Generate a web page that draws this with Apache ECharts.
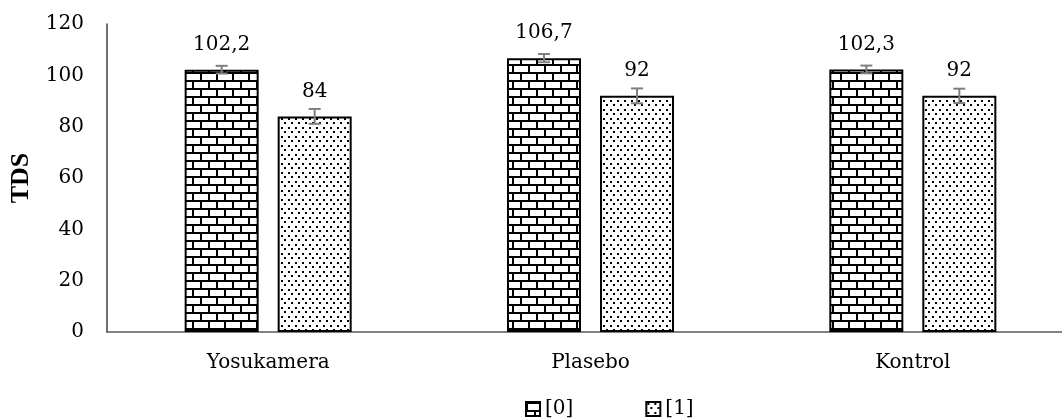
<!DOCTYPE html>
<html>
<head>
<meta charset="utf-8">
<script src="https://cdn.jsdelivr.net/npm/echarts@6/dist/echarts.min.js"></script>
<style>
html,body{margin:0;padding:0;background:#fff;overflow:hidden;}
#chart{width:1080px;height:418px;}
</style>
</head>
<body>
<div id="chart"></div>
<script>
// ---- data ----
const categories = ['Yosukamera', 'Plasebo', 'Kontrol'];
const seriesNames = ['[0]', '[1]'];
const values0 = [102.2, 106.7, 102.3];
const values1 = [84, 92, 92];
const errors0 = [1.5, 1.6, 1.5];
const errors1 = [2.9, 2.9, 2.8];
const yTicks = [0, 20, 40, 60, 80, 100, 120];

// ---- patterns ----
function brickPattern() {
  const c = document.createElement('canvas');
  c.width = 16; c.height = 16;
  const g = c.getContext('2d');
  g.fillStyle = '#fff'; g.fillRect(0, 0, 16, 16);
  g.fillStyle = '#000';
  g.fillRect(0, 0, 16, 2);
  g.fillRect(0, 8, 16, 2);
  g.fillRect(0, 0, 2, 8);
  g.fillRect(8, 8, 2, 8);
  return c;
}
function dotPattern() {
  const c = document.createElement('canvas');
  c.width = 14; c.height = 9;
  const g = c.getContext('2d');
  g.fillStyle = '#fff'; g.fillRect(0, 0, 14, 9);
  g.fillStyle = '#000';
  g.fillRect(1, 1, 2, 2);
  g.fillRect(8, 1, 2, 2);
  g.fillRect(4, 5, 2, 2);
  g.fillRect(11, 5, 2, 2);
  return c;
}

const brick = { image: brickPattern(), repeat: 'repeat' };
const dots = { image: dotPattern(), repeat: 'repeat' };

const FONT = 'DejaVu Serif';
const BAR_W = 74;
const BAR_GAP_PX = 19;
const OFFSET = (BAR_W + BAR_GAP_PX) / 2;

function fmt(v) { return String(v).replace('.', ','); }

function errSeries(vals, errs, offset) {
  return {
    type: 'custom',
    z: 5,
    silent: true,
    data: vals.map((v, i) => [i, v, errs[i]]),
    encode: { x: 0, y: 1 },
    renderItem: function (params, api) {
      const i = api.value(0), v = api.value(1), e = api.value(2);
      const top = api.coord([i, v + e]);
      const bot = api.coord([i, v - e]);
      const x = top[0] + offset;
      const hw = 6;
      const st = { stroke: '#7f7f7f', lineWidth: 2 };
      return {
        type: 'group',
        children: [
          { type: 'line', shape: { x1: x, y1: top[1], x2: x, y2: bot[1] }, style: st },
          { type: 'line', shape: { x1: x - hw, y1: top[1], x2: x + hw, y2: top[1] }, style: st },
          { type: 'line', shape: { x1: x - hw, y1: bot[1], x2: x + hw, y2: bot[1] }, style: st }
        ]
      };
    }
  };
}

const labelStyle = { fontFamily: FONT, fontSize: 20, color: '#000' };

const chart = echarts.init(document.getElementById('chart'), null, { renderer: 'canvas' });
chart.setOption({
  animation: false,
  backgroundColor: '#fff',
  grid: { left: 105, top: 24, width: 969, height: 308 },
  legend: {
    data: seriesNames.map(n => ({ name: n, icon: 'rect' })),
    left: 525,
    top: 399,
    padding: 0,
    itemWidth: 14,
    itemHeight: 14,
    itemGap: 72,
    textStyle: labelStyle
  },
  xAxis: {
    type: 'category',
    data: categories,
    axisLine: { lineStyle: { color: '#595959', width: 1.5 } },
    axisTick: { show: false },
    axisLabel: Object.assign({ margin: 21 }, labelStyle)
  },
  yAxis: {
    type: 'value',
    min: yTicks[0],
    max: yTicks[yTicks.length - 1],
    interval: 20,
    name: 'TDS',
    nameLocation: 'middle',
    nameGap: 73,
    nameTextStyle: { fontFamily: 'Liberation Serif', fontWeight: 'bold', fontSize: 26, color: '#000' },
    axisLine: { show: true, lineStyle: { color: '#404040', width: 1.5 } },
    axisTick: { show: false },
    splitLine: { show: false },
    axisLabel: Object.assign({ margin: 23 }, labelStyle)
  },
  series: [
    {
      name: seriesNames[0],
      type: 'bar',
      data: values0,
      barWidth: BAR_W,
      barGap: (BAR_GAP_PX / BAR_W * 100).toFixed(1) + '%',
      itemStyle: { color: brick, borderColor: '#000', borderWidth: 2 },
      label: Object.assign({ show: true, position: 'top', distance: 15, formatter: p => fmt(p.value) }, labelStyle)
    },
    {
      name: seriesNames[1],
      type: 'bar',
      data: values1,
      barWidth: BAR_W,
      itemStyle: { color: dots, borderColor: '#000', borderWidth: 2 },
      label: Object.assign({ show: true, position: 'top', distance: 15, formatter: p => fmt(p.value) }, labelStyle)
    },
    errSeries(values0, errors0, -OFFSET),
    errSeries(values1, errors1, OFFSET)
  ]
});
</script>
</body>
</html>
